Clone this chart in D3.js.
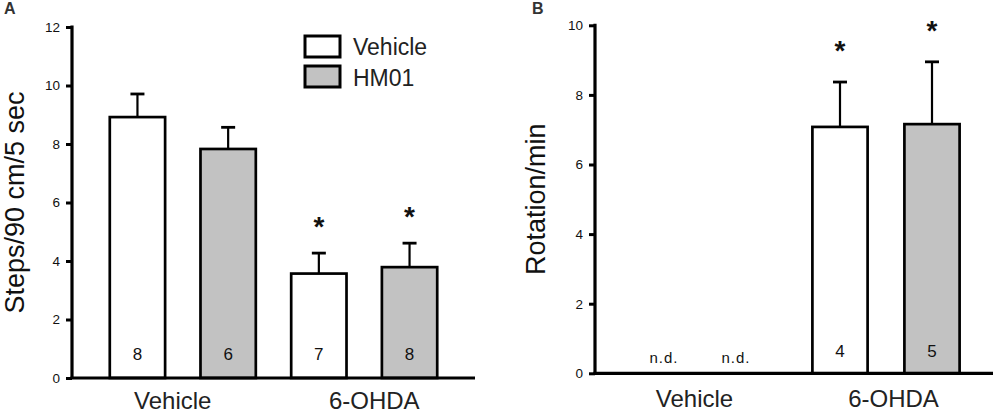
<!DOCTYPE html>
<html>
<head>
<meta charset="utf-8">
<script src="https://cdn.jsdelivr.net/npm/d3@7"></script>
<style>
  html, body { margin: 0; padding: 0; background: #fff; }
  svg { display: block; font-family: "Liberation Sans", Arial, sans-serif; }
</style>
</head>
<body>
<svg id="chart" width="1000" height="414"></svg>
<script>
// ---- data ----
const groups = ["Vehicle", "6-OHDA"];
const treatments = ["Vehicle", "HM01"];
// bar order: Vehicle/Vehicle, Vehicle/HM01, 6-OHDA/Vehicle, 6-OHDA/HM01
const stepsMean = [8.92, 7.83, 3.57, 3.79];
const stepsSem  = [0.79, 0.74, 0.70, 0.82];
const stepsN    = [8, 6, 7, 8];
const stepsSig  = [false, false, true, true];
const stepsTicks = [0, 2, 4, 6, 8, 10, 12];

const rotMean = [null, null, 7.08, 7.16];
const rotSem  = [null, null, 1.29, 1.79];
const rotN    = [null, null, 4, 5];
const rotSig  = [false, false, true, true];
const rotTicks = [0, 2, 4, 6, 8, 10];

const fills = { "Vehicle": "#ffffff", "HM01": "#c2c2c2" };
const ink = "#000";

const svg = d3.select("#chart");

function buildRows(mean, sem, n, sig) {
  return mean.map((m, i) => ({
    i, group: groups[Math.floor(i / 2)], treat: treatments[i % 2],
    mean: m, sem: sem[i], n: n[i], sig: sig[i]
  }));
}

function panel(cfg) {
  const g = svg.append("g");
  const y = d3.scaleLinear().domain([0, cfg.ymax]).range([cfg.bottom, cfg.top]);
  const x = d3.scaleBand().domain(d3.range(4)).range([cfg.left, cfg.right])
    .paddingInner(cfg.pi).paddingOuter(cfg.po);
  const xg = d3.scaleBand().domain(groups).range([cfg.left, cfg.right])
    .paddingInner(0).paddingOuter(0);
  const rows = cfg.rows;

  // y axis (ticks + labels from d3 axis, line drawn explicitly)
  const ya = g.append("g").attr("transform", `translate(${cfg.left},0)`)
    .call(d3.axisLeft(y).tickValues(cfg.ticks).tickSize(6).tickSizeOuter(0).tickPadding(6));
  ya.select(".domain").remove();
  ya.selectAll(".tick line").attr("stroke", ink).attr("stroke-width", 3);
  ya.selectAll(".tick text").attr("font-size", 13.5).attr("fill", "#111")
    .attr("font-family", "Liberation Sans, Arial, sans-serif");
  g.append("line").attr("x1", cfg.left).attr("x2", cfg.left)
    .attr("y1", y(cfg.ymax) - 1.5).attr("y2", y(0))
    .attr("stroke", ink).attr("stroke-width", 3.2);

  // bars
  const present = rows.filter(d => d.mean != null);
  g.selectAll("rect.bar").data(present).join("rect")
    .attr("x", d => x(d.i)).attr("width", x.bandwidth())
    .attr("y", d => y(d.mean)).attr("height", d => y(0) - y(d.mean))
    .attr("fill", d => fills[d.treat]).attr("stroke", ink).attr("stroke-width", 2.7);

  // error bars
  const cx = d => x(d.i) + x.bandwidth() / 2;
  g.selectAll("line.err").data(present).join("line")
    .attr("x1", cx).attr("x2", cx)
    .attr("y1", d => y(d.mean)).attr("y2", d => y(d.mean + d.sem))
    .attr("stroke", ink).attr("stroke-width", 2.2);
  g.selectAll("line.cap").data(present).join("line")
    .attr("x1", d => cx(d) - 7).attr("x2", d => cx(d) + 7)
    .attr("y1", d => y(d.mean + d.sem)).attr("y2", d => y(d.mean + d.sem))
    .attr("stroke", ink).attr("stroke-width", 2.8);

  // n labels
  g.selectAll("text.n").data(present).join("text")
    .attr("x", cx).attr("y", y(0) - cfg.nOffset)
    .attr("text-anchor", "middle").attr("font-size", 17).attr("fill", "#111")
    .text(d => d.n);

  // n.d. labels
  g.selectAll("text.nd").data(rows.filter(d => d.mean == null)).join("text")
    .attr("x", d => cx(d) + (d.i % 2 === 0 ? 8 : -12)).attr("y", y(0) - 10)
    .attr("text-anchor", "middle").attr("font-size", 15).attr("letter-spacing", 1)
    .attr("fill", "#111").text("n.d.");

  // significance stars
  g.selectAll("text.star").data(present.filter(d => d.sig)).join("text")
    .attr("x", cx).attr("y", d => y(d.mean + d.sem) - cfg.starOffset)
    .attr("text-anchor", "middle").attr("font-size", 28).attr("font-weight", "bold")
    .attr("fill", "#111").text("*");

  // x axis (labels from d3 axis, line drawn explicitly)
  const xa = g.append("g").attr("transform", `translate(0,${cfg.bottom})`)
    .call(d3.axisBottom(xg).tickSize(0).tickSizeOuter(0));
  xa.select(".domain").remove();
  xa.selectAll(".tick text").attr("font-size", 24).attr("fill", "#222")
    .attr("font-family", "Liberation Sans, Arial, sans-serif")
    .attr("dy", null).attr("y", cfg.labelY);
  g.append("line").attr("x1", cfg.left - 1.6).attr("x2", cfg.right)
    .attr("y1", y(0)).attr("y2", y(0))
    .attr("stroke", ink).attr("stroke-width", 3.2);

  // y label
  g.append("text")
    .attr("transform", `translate(${cfg.ylabX},${(cfg.top + cfg.bottom) / 2}) rotate(-90)`)
    .attr("text-anchor", "middle").attr("font-size", 27).attr("fill", "#111")
    .text(cfg.ylabel);

  // panel letter
  g.append("text").attr("x", cfg.letterX).attr("y", 14)
    .attr("font-size", 16).attr("font-weight", "bold").attr("fill", "#333")
    .text(cfg.letter);
  return g;
}

panel({
  rows: buildRows(stepsMean, stepsSem, stepsN, stepsSig),
  ymax: 12, ticks: stepsTicks,
  left: 72, right: 475, top: 27, bottom: 378,
  pi: 0.39, po: 0.4166, nOffset: 18, starOffset: 17, labelY: 31,
  ylabX: 24, ylabel: "Steps/90 cm/5 sec", letter: "A", letterX: 4
});

panel({
  rows: buildRows(rotMean, rotSem, rotN, rotSig),
  ymax: 10, ticks: rotTicks,
  left: 595, right: 993, top: 25.3, bottom: 373.3,
  pi: 0.40, po: 0.363, nOffset: 16, starOffset: 22, labelY: 34,
  ylabX: 545, ylabel: "Rotation/min", letter: "B", letterX: 532
});

// legend (panel A)
const legend = svg.append("g");
treatments.forEach((t, k) => {
  legend.append("rect").attr("x", 305).attr("y", 36 + k * 30).attr("width", 35).attr("height", 21)
    .attr("fill", fills[t]).attr("stroke", ink).attr("stroke-width", 3);
  legend.append("text").attr("x", 353).attr("y", 55 + k * 31)
    .attr("font-size", 23).attr("fill", "#222").text(t);
});
</script>
</body>
</html>
